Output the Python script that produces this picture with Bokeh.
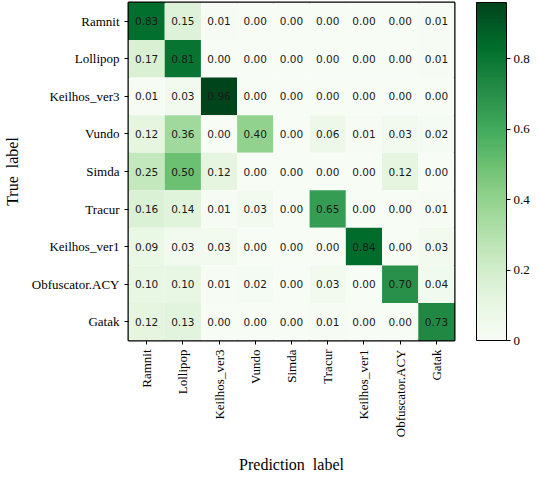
from math import pi
from bokeh.plotting import figure
from bokeh.models import ColumnDataSource, LinearColorMapper, ColorBar, FixedTicker, FactorRange
from bokeh.palettes import Greens256
from bokeh.transform import transform
from bokeh.core.properties import value
from bokeh.embed import file_html
from bokeh.resources import INLINE

classes = ["Ramnit", "Lollipop", "Keilhos_ver3", "Vundo", "Simda", "Tracur",
           "Keilhos_ver1", "Obfuscator.ACY", "Gatak"]

row_ramnit = [0.83, 0.15, 0.01, 0.00, 0.00, 0.00, 0.00, 0.00, 0.01]
row_lollipop = [0.17, 0.81, 0.00, 0.00, 0.00, 0.00, 0.00, 0.00, 0.01]
row_keilhos3 = [0.01, 0.03, 0.96, 0.00, 0.00, 0.00, 0.00, 0.00, 0.00]
row_vundo = [0.12, 0.36, 0.00, 0.40, 0.00, 0.06, 0.01, 0.03, 0.02]
row_simda = [0.25, 0.50, 0.12, 0.00, 0.00, 0.00, 0.00, 0.12, 0.00]
row_tracur = [0.16, 0.14, 0.01, 0.03, 0.00, 0.65, 0.00, 0.00, 0.01]
row_keilhos1 = [0.09, 0.03, 0.03, 0.00, 0.00, 0.00, 0.84, 0.00, 0.03]
row_obfus = [0.10, 0.10, 0.01, 0.02, 0.00, 0.03, 0.00, 0.70, 0.04]
row_gatak = [0.12, 0.13, 0.00, 0.00, 0.00, 0.01, 0.00, 0.00, 0.73]

matrix = [row_ramnit, row_lollipop, row_keilhos3, row_vundo, row_simda,
          row_tracur, row_keilhos1, row_obfus, row_gatak]

cbar_ticks = [0, 0.2, 0.4, 0.6, 0.8]

xs, ys, vals, labels = [], [], [], []
for i, true_c in enumerate(classes):
    for j, pred_c in enumerate(classes):
        xs.append(pred_c)
        ys.append(true_c)
        vals.append(matrix[i][j])
        labels.append("%.2f" % matrix[i][j])

src = ColumnDataSource(dict(x=xs, y=ys, v=vals, t=labels))

palette = tuple(reversed(Greens256))
mapper = LinearColorMapper(palette=palette, low=0, high=0.96)

SERIF = "Liberation Serif"
FW, FH = 326, 338

p = figure(x_range=FactorRange(*classes), y_range=FactorRange(*reversed(classes)),
           frame_width=FW, frame_height=FH, output_backend="svg",
           toolbar_location=None, min_border_left=0, min_border_top=2,
           min_border_bottom=2, min_border_right=78)

p.rect(x="x", y="y", width=1, height=1, source=src,
       fill_color=transform("v", mapper), line_color=None)
p.text(x="x", y="y", text="t", source=src, text_align="center",
       text_baseline="middle", text_font_size="10.5px", text_color="#1a1a1a",
       text_font=value("DejaVu Sans"))

p.grid.visible = False
p.outline_line_color = "black"
p.outline_line_width = 2

for ax in (p.xaxis, p.yaxis):
    ax.axis_line_color = None
    ax.major_tick_line_color = "black"
    ax.major_tick_out = 4
    ax.major_tick_in = 0
    ax.minor_tick_line_color = None
    ax.major_label_text_font = SERIF
    ax.major_label_text_font_size = "13px"
    ax.major_label_text_color = "black"
    ax.axis_label_text_font = SERIF
    ax.axis_label_text_font_size = "16px"
    ax.axis_label_text_font_style = "normal"
    ax.axis_label_text_color = "black"

p.xaxis.major_label_orientation = pi / 2
p.xaxis.axis_label = "Prediction\u00a0 label"
p.yaxis.axis_label = "True\u00a0 label"
p.xaxis.axis_label_standoff = 16
p.yaxis.axis_label_standoff = 8

cb = ColorBar(color_mapper=mapper, ticker=FixedTicker(ticks=cbar_ticks),
              width=30, height=FH, padding=0, margin=0,
              location=(FW + 22, 0),
              major_tick_in=0, major_tick_out=4, major_tick_line_color="black",
              bar_line_color="black", bar_line_width=1,
              label_standoff=3, major_label_text_font=SERIF,
              major_label_text_font_size="13px", major_label_text_color="black",
              background_fill_color=None, border_line_color=None)
p.add_layout(cb)

open("out.html", "w").write(file_html(p, INLINE))
